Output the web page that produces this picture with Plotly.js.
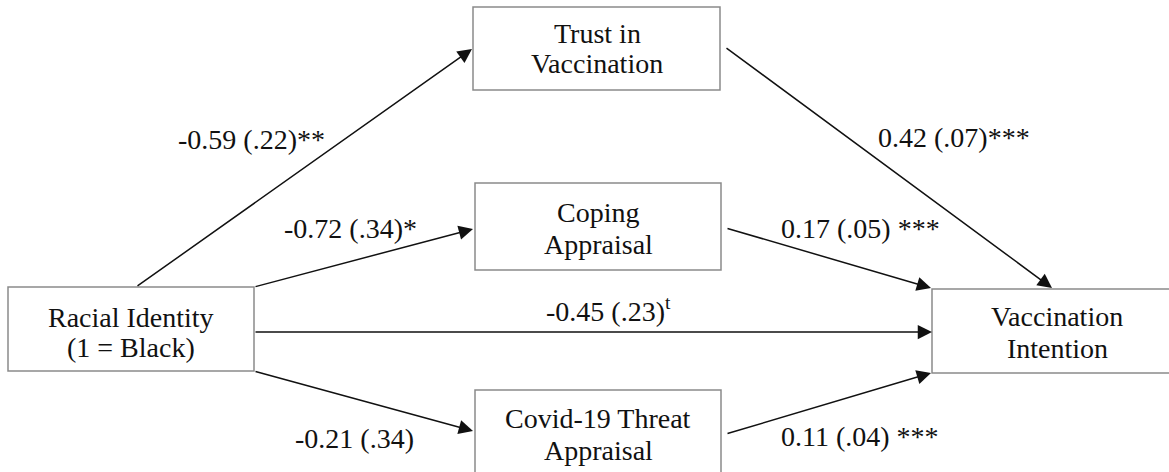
<!DOCTYPE html>
<html>
<head>
<meta charset="utf-8">
<script src="https://cdn.plot.ly/plotly-3.0.1.min.js"></script>
<style>html,body{margin:0;padding:0;background:#fff;}#chart{width:1169px;height:472px;}</style>
</head>
<body>
<div id="chart"></div>
<script>
// ---- data ----
var nodeNames = ["Racial Identity", "Trust in Vaccination", "Coping Appraisal", "Covid-19 Threat Appraisal", "Vaccination Intention"];
var nodeLines = [["Racial Identity", "(1 = Black)"], ["Trust in", "Vaccination"], ["Coping", "Appraisal"], ["Covid-19 Threat", "Appraisal"], ["Vaccination", "Intention"]];
var pathFrom = [0, 0, 0, 0, 1, 2, 3];
var pathTo   = [1, 2, 4, 3, 4, 4, 4];
var estimates = [-0.59, -0.72, -0.45, -0.21, 0.42, 0.17, 0.11];
var stdErrors = [0.22, 0.34, 0.23, 0.34, 0.07, 0.05, 0.04];
var sigMarks  = ["**", "*", "<sup>t</sup>", "", "***", " ***", " ***"];

// ---- layout geometry (positions in pixel-like axis units) ----
var boxGeom = [
  {x0: 8,   x1: 254,  y0: 287, y1: 371, cx: 131,  ly: [317, 347]},
  {x0: 473, x1: 720,  y0: 7,   y1: 90,  cx: 597,  ly: [33, 63]},
  {x0: 475, x1: 721,  y0: 183, y1: 270, cx: 598,  ly: [212, 244]},
  {x0: 475, x1: 721,  y0: 390, y1: 490, cx: 598,  ly: [418, 450]},
  {x0: 932, x1: 1200, y0: 289, y1: 373, cx: 1057, ly: [316, 348]}
];
var arrowGeom = [
  {ax: 136, ay: 287, x: 472, y: 49},
  {ax: 254, ay: 287, x: 473, y: 229},
  {ax: 254, ay: 332, x: 932, y: 332},
  {ax: 254, ay: 371, x: 473, y: 431},
  {ax: 725, ay: 47,  x: 1052, y: 288},
  {ax: 726, ay: 228, x: 931, y: 288},
  {ax: 726, ay: 434, x: 931, y: 373}
];
var labelGeom = [
  {x: 251, y: 139}, {x: 350, y: 228}, {x: 608, y: 309}, {x: 354, y: 438},
  {x: 954, y: 137}, {x: 860, y: 228}, {x: 860, y: 436}
];

var FONT = "'Liberation Serif', 'Times New Roman', Times, serif";
var shapes = [];
var annotations = [];

boxGeom.forEach(function (b, i) {
  shapes.push({type: "rect", xref: "x", yref: "y", x0: b.x0, x1: b.x1, y0: b.y0, y1: b.y1,
    line: {color: "#8a8a8a", width: 1.5}, fillcolor: "rgba(0,0,0,0)", layer: "below"});
  nodeLines[i].forEach(function (t, k) {
    annotations.push({x: b.cx, y: b.ly[k], xref: "x", yref: "y", text: t, showarrow: false,
      xanchor: "center", yanchor: "middle", font: {family: FONT, size: 28, color: "#111"}});
  });
});

function fmtSE(v) { return v.toFixed(2).replace(/^0/, ""); }

pathFrom.forEach(function (f, i) {
  var g = arrowGeom[i];
  annotations.push({x: g.x, y: g.y, ax: g.ax, ay: g.ay, xref: "x", yref: "y", axref: "x", ayref: "y",
    text: "", showarrow: true, arrowhead: 2, arrowsize: 1.9, arrowwidth: 1.5, arrowcolor: "#111", standoff: 0, startstandoff: 0});
  var lg = labelGeom[i];
  annotations.push({x: lg.x, y: lg.y, xref: "x", yref: "y",
    text: estimates[i].toFixed(2) + " (" + fmtSE(stdErrors[i]) + ")" + sigMarks[i],
    showarrow: false, xanchor: "center", yanchor: "middle", font: {family: FONT, size: 28, color: "#111"}});
});

var layout = {
  width: 1169, height: 472,
  font: {family: FONT, size: 28, color: "#111"},
  margin: {l: 0, r: 0, t: 0, b: 0, pad: 0},
  paper_bgcolor: "#fff", plot_bgcolor: "#fff",
  xaxis: {range: [0, 1169], visible: false, fixedrange: true},
  yaxis: {range: [472, 0], visible: false, fixedrange: true},
  shapes: shapes,
  annotations: annotations,
  showlegend: false
};

Plotly.newPlot("chart", [], layout, {staticPlot: true, displayModeBar: false});
</script>
</body>
</html>
